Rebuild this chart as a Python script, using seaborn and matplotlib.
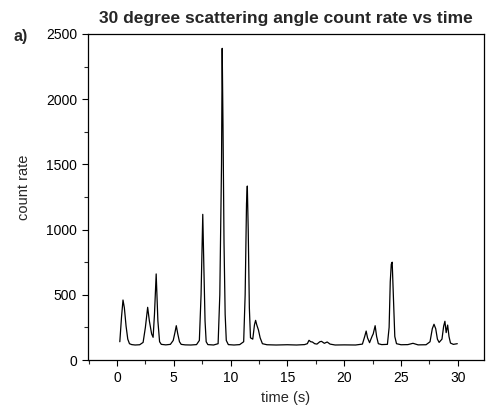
import matplotlib
matplotlib.use("Agg")
import matplotlib.pyplot as plt
from matplotlib.ticker import MultipleLocator
import seaborn as sns
import pandas as pd

time_s = [0.25, 0.4, 0.53, 0.65, 0.8, 0.95, 1.1, 1.3, 1.6, 2.0,
          2.3, 2.5, 2.7, 2.85, 3.05, 3.18, 3.3, 3.45, 3.6, 3.75,
          3.9, 4.3, 4.7, 4.95, 5.1, 5.22, 5.35, 5.5, 5.65, 6.0,
          6.5, 7.0, 7.25, 7.4, 7.55, 7.65, 7.75, 7.85, 8.0, 8.5,
          8.9, 9.05, 9.2, 9.26, 9.33, 9.42, 9.52, 9.62, 9.8, 10.3,
          10.8, 11.15, 11.28, 11.4, 11.47, 11.55, 11.65, 11.75, 11.95, 12.1,
          12.2, 12.3, 12.45, 12.6, 12.8, 13.2, 14.0, 15.0, 15.8, 16.5,
          16.75, 16.9, 17.05, 17.2, 17.4, 17.6, 17.85, 18.0, 18.25, 18.5,
          18.75, 19.2, 20.0, 21.0, 21.6, 21.8, 21.93, 22.05, 22.23, 22.35,
          22.46, 22.55, 22.72, 22.85, 23.0, 23.3, 23.8, 23.95, 24.05, 24.14,
          24.22, 24.32, 24.45, 24.6, 25.0, 25.6, 26.05, 26.5, 27.2, 27.55,
          27.75, 27.9, 28.05, 28.2, 28.35, 28.6, 28.75, 28.86, 28.97, 29.1,
          29.22, 29.35, 29.6, 29.95]
count_rate = [140, 330, 460, 400, 260, 160, 125, 118, 115, 117,
              135, 250, 404, 300, 200, 174, 350, 660, 300, 140,
              120, 116, 120, 150, 210, 263, 200, 140, 120, 116,
              115, 118, 150, 500, 1117, 700, 300, 140, 118, 115,
              125, 500, 1500, 2390, 1800, 900, 350, 150, 118, 115,
              118, 140, 500, 1200, 1334, 1000, 400, 170, 160, 270,
              304, 270, 230, 170, 125, 117, 115, 117, 115, 118,
              125, 151, 140, 138, 125, 122, 140, 143, 128, 138,
              122, 115, 116, 115, 122, 180, 222, 170, 133, 160,
              184, 200, 263, 180, 125, 118, 120, 250, 600, 735,
              750, 500, 180, 125, 117, 118, 128, 116, 117, 140,
              240, 274, 240, 160, 135, 160, 260, 297, 210, 268,
              180, 130, 120, 125]

x_ticks = [0, 5, 10, 15, 20, 25, 30]
y_ticks = [0, 500, 1000, 1500, 2000, 2500]

df = pd.DataFrame({"time": time_s, "count": count_rate})

sns.set_style("ticks")
plt.rcParams["font.family"] = ["Liberation Sans", "DejaVu Sans"]

fig = plt.figure(figsize=(4.86, 4.13), dpi=100)
ax = fig.add_axes([88/486, 53/413, 396/486, 326/413])

sns.lineplot(data=df, x="time", y="count", ax=ax, color="black",
             linewidth=0.9, estimator=None, sort=False)

ax.set_xlim(-2.55, 32.3)
ax.set_ylim(0, 2500)
ax.set_xticks(x_ticks)
ax.set_yticks(y_ticks)
ax.xaxis.set_minor_locator(MultipleLocator(2.5))
ax.yaxis.set_minor_locator(MultipleLocator(250))
ax.tick_params(axis="both", which="major", direction="out", length=4.5,
               width=0.8, labelsize=10, color="black", labelcolor="black",
               top=False, right=False)
ax.tick_params(axis="both", which="minor", direction="out", length=3,
               width=0.8, top=False, right=False)
for s in ax.spines.values():
    s.set_visible(True)
    s.set_color("black")
    s.set_linewidth(0.9)

ax.set_xlabel("time (s)", fontsize=10.5, labelpad=4)
ax.set_ylabel("count rate", fontsize=10.5)
ax.yaxis.set_label_coords(-0.144, 0.53)
ax.set_title("30 degree scattering angle count rate vs time",
             fontsize=12.5, fontweight="bold", pad=8)
fig.text(21/486, 1 - 36/413, "a)", fontsize=11.5, fontweight="bold",
         ha="center", va="center")

fig.savefig("out.png", dpi=100)
